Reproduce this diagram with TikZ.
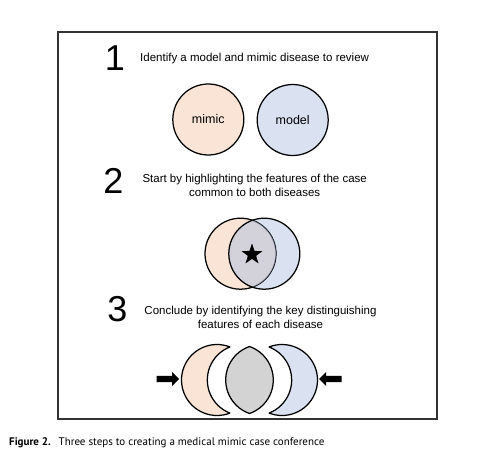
\documentclass[tikz,border=0pt]{standalone}
\usepackage{fontspec}
\setmainfont{Liberation Sans}
\newfontfamily\capfont{PT Sans}
\usetikzlibrary{shapes.geometric,shapes.arrows}
\definecolor{mimicfill}{HTML}{FAE4D6}
\definecolor{modelfill}{HTML}{DAE2F2}
\definecolor{commonfill}{HTML}{B9C6DE}
\definecolor{keyfill}{HTML}{D3D3D3}

\begin{document}
\begin{tikzpicture}[x=1pt, y=1pt]
    \tikzstyle{every node} = [inner sep=0]
    \tikzstyle{stepnum} = [font=\fontsize{36}{36}\selectfont, anchor=base]
    \tikzstyle{steptext} = [font=\fontsize{11.5}{13.5}\selectfont, align=center]
    \tikzstyle{disease} = [circle, draw, line width=1.25pt, minimum size=71pt, font=\fontsize{12.5}{12.5}\selectfont]
    \tikzstyle{outline} = [line width=1.25pt, line join=round]
    \tikzstyle{push} = [single arrow, fill=black, inner sep=3pt, minimum height=22.5pt, single arrow head extend=3.75pt]
    \useasboundingbox (0,0) rectangle (485,-464);
    \draw[line width=1.2pt, black!80] (58,-32) rectangle (437,-419);

    % step 1
    \node[stepnum] (one) at (115,-70) {1};
    \node[steptext, anchor=base west] (identify) at (140,-61.5) {Identify a model and mimic disease to review};
    \node[disease, fill=mimicfill] (mimic) at (208.3,-119.5) {mimic};
    \node[disease, fill=modelfill] (model) at (292.7,-120) {model};

    % step 2
    \node[stepnum] (two) at (113.3,-193) {2};
    \node[steptext] (shared) at (254.7,-185.3) {Start by highlighting the features of the case\\common to both diseases};
    \fill[modelfill] (264.3,-253.7) circle (35.5pt);
    \node[disease, fill=mimicfill] (vmimic) at (240.5,-253.7) {};
    \begin{scope}
        \clip (vmimic.center) circle (35.5pt);
        \fill[commonfill, fill opacity=0.6] (264.3,-253.7) circle (35.5pt);
    \end{scope}
    \node[disease] (vmodel) at (264.3,-253.7) {};
    \node[star, star points=5, star point ratio=2.5, fill=black, minimum size=22pt] (common) at (252,-254.5) {};

    % step 3
    \node[stepnum] (three) at (117.5,-321.5) {3};
    \node[steptext] (distinct) at (260.5,-317.5) {Conclude by identifying the key distinguishing\\features of each disease};
    \filldraw[outline, fill=mimicfill] (217,-380) ++(68.69:35.5pt)
        arc[start angle=68.69, end angle=291.31, radius=35.5pt]
        arc[start angle=248.64, end angle=111.36, radius=35.5pt] -- cycle;
    \filldraw[outline, fill=keyfill] (261.2,-380) ++(109.25:35.5pt)
        arc[start angle=109.25, end angle=250.75, radius=35.5pt]
        arc[start angle=-70.75, end angle=70.75, radius=35.5pt] -- cycle;
    \filldraw[outline, fill=modelfill] (282,-380) ++(111.31:35.5pt)
        arc[start angle=111.31, end angle=-111.31, radius=35.5pt]
        arc[start angle=-68.64, end angle=68.64, radius=35.5pt] -- cycle;
    \node[push] (pushL) at (166.2,-379) {};
    \node[push, shape border rotate=180] (pushR) at (332,-379) {};

    \node[anchor=base west, font=\capfont\fontsize{11}{11}\selectfont] (caption) at (9,-445.7) {\textbf{Figure 2.}\hspace{4pt} Three steps to creating a medical mimic case conference};
\end{tikzpicture}
\end{document}
